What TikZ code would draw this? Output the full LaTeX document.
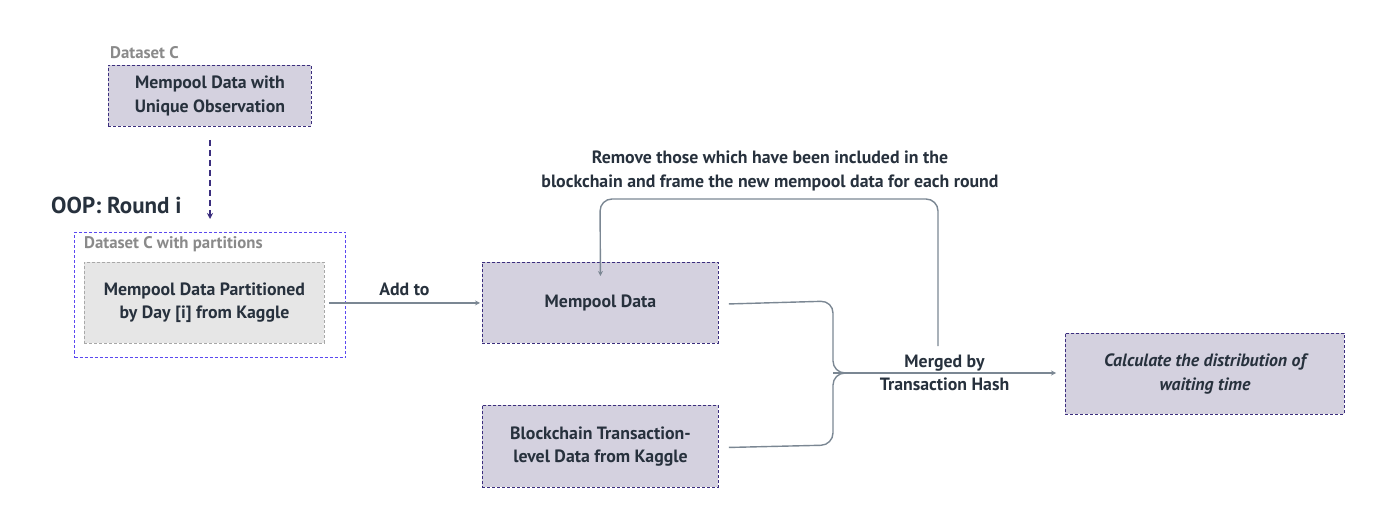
\documentclass[tikz,border=0pt]{standalone}
\usepackage{fontspec}
\setmainfont{PT Sans}
\usetikzlibrary{arrows.meta,positioning,calc}
\definecolor{boxfill}{HTML}{D4D1DF}
\definecolor{boxline}{HTML}{3B2E7E}
\definecolor{outerline}{HTML}{5A48F0}
\definecolor{grayfill}{HTML}{E6E6E6}
\definecolor{grayline}{HTML}{A8A8A8}
\definecolor{conn}{HTML}{7B8793}
\definecolor{txt}{HTML}{27313D}
\definecolor{lbl}{HTML}{8A8A8A}
\tikzset{
  x=1pt,y=-1pt,
  every node/.style={text=txt,font=\bfseries\fontsize{17.8}{23.5}\selectfont},
  databox/.style={draw=boxline,fill=boxfill,dash pattern=on 3pt off 2pt,line width=0.9pt,align=center,anchor=north west,inner sep=0pt},
  graybox/.style={draw=grayline,fill=grayfill,dash pattern=on 3pt off 2pt,line width=0.9pt,align=center,anchor=north west,inner sep=0pt},
  outerbox/.style={draw=outerline,dash pattern=on 3pt off 2pt,line width=1pt,anchor=north west,inner sep=0pt},
  setlabel/.style={text=lbl,anchor=west,inner sep=0pt,font=\bfseries\fontsize{16.8}{18}\selectfont},
  conn/.style={draw=conn,line width=1.4pt,-{Stealth[length=5pt,width=5pt]}},
  connplain/.style={draw=conn,line width=1.4pt},
}
\begin{document}
\begin{tikzpicture}
\useasboundingbox (0,0) rectangle (1396,510);
% Dataset C
\node[setlabel] (lblc) at (110,53) {Dataset C};
\node[databox,minimum width=203pt,minimum height=61pt] (dsc) at (108,65) {Mempool Data with\\Unique Observation};
% OOP label
\node[anchor=west,inner sep=0pt,font=\bfseries\fontsize{23}{26}\selectfont] (oop) at (51,205) {OOP: Round i};
% outer partition box
\node[outerbox,minimum width=271pt,minimum height=125pt] (outer) at (74,232) {};
\node[setlabel] (lblp) at (84,244) {Dataset C with partitions};
\node[graybox,minimum width=240pt,minimum height=81pt] (part) at (84,262) {Mempool Data Partitioned\\by Day [i] from Kaggle};
% dashed arrow
\coordinate (dsa) at (210,140);
\coordinate (dsb) at (210,219);
\draw[draw=boxline,line width=1.6pt,dash pattern=on 6pt off 4pt,-{Stealth[length=6pt,width=6pt]}] (dsa) -- (dsb);
% mempool data
\node[databox,minimum width=236pt,minimum height=81pt] (mem) at (482,262) {Mempool Data};
\node[databox,minimum width=236pt,minimum height=82pt] (bc) at (482,405) {Blockchain Transaction-\\level Data from Kaggle};
\node[databox,minimum width=279pt,minimum height=81pt,font=\bfseries\itshape\fontsize{17.8}{23.5}\selectfont] (calc) at (1065,333) {Calculate the distribution of\\waiting time};
% add to
\draw[conn] ([xshift=4pt]part.east) -- node[above=3pt] (addto) {Add to} ([xshift=-2pt]mem.west);
% merge
\coordinate (j) at (833,373);
\draw[connplain,rounded corners=12pt] ([xshift=10pt,yshift=-1pt]mem.east) -- (833,301) -- (833,373) -- (900,373);
\draw[connplain,rounded corners=12pt] ([xshift=10pt,yshift=-1pt]bc.east) -- (833,445) -- (833,373) -- (900,373);
\draw[conn] (j) -- node[align=center] (merge) {Merged by\\Transaction Hash} ([xshift=-9pt]calc.west |- j);
% feedback
\coordinate (f1) at (938,346);
\draw[conn,rounded corners=12pt] (f1) -- (938,199) -- (600,199) -- ([yshift=-14pt]mem.north);
\node[align=center] (remove) at (770,171) {Remove those which have been included in the\\blockchain and frame the new mempool data for each round};
\end{tikzpicture}
\end{document}
